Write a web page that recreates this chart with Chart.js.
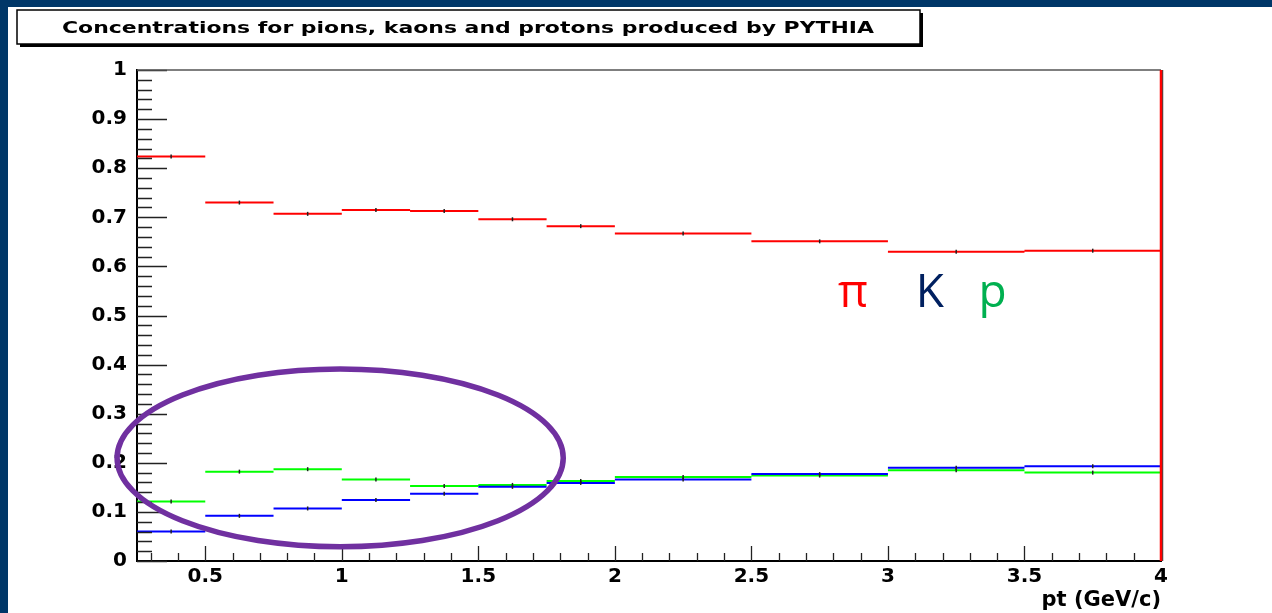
<!DOCTYPE html>
<html>
<head>
<meta charset="utf-8">
<script src="https://cdn.jsdelivr.net/npm/chart.js@4.4.1/dist/chart.umd.min.js"></script>
<style>
  html, body { margin: 0; padding: 0; background: #003768; width: 1272px; height: 613px; overflow: hidden; }
  #wrap { position: absolute; left: 8px; top: 7px; width: 1264px; height: 606px; background: #fff; }
</style>
</head>
<body>
<div id="wrap"><canvas id="myChart"></canvas></div>
<script>
// Bin edges in pt (GeV/c)
const binLow  = [0.25, 0.5, 0.75, 1.0, 1.25, 1.5, 1.75, 2.0, 2.5, 3.0, 3.5];
const binHigh = [0.5, 0.75, 1.0, 1.25, 1.5, 1.75, 2.0, 2.5, 3.0, 3.5, 4.0];

// Concentrations per bin
const pionValues   = [0.824, 0.730, 0.707, 0.715, 0.713, 0.696, 0.682, 0.667, 0.651, 0.630, 0.632];
const kaonValues   = [0.060, 0.092, 0.107, 0.124, 0.137, 0.151, 0.159, 0.166, 0.177, 0.190, 0.193];
const protonValues = [0.121, 0.182, 0.187, 0.166, 0.153, 0.155, 0.163, 0.171, 0.174, 0.185, 0.180];

// Tick labels
const xTickValues = [0.5, 1, 1.5, 2, 2.5, 3, 3.5, 4];
const yTickValues = [0, 0.1, 0.2, 0.3, 0.4, 0.5, 0.6, 0.7, 0.8, 0.9, 1];

const titleText = 'Concentrations for pions, kaons and protons produced by PYTHIA';
const xTitle = 'pt (GeV/c)';

// Turn bin values into separate horizontal segments (null breaks the line)
function toSteps(values) {
  let pts = [];
  for (let i = 0; i < values.length; i++) {
    pts.push({ x: binLow[i], y: values[i] });
    pts.push({ x: binHigh[i], y: values[i] });
    pts.push({ x: binHigh[i], y: null });
  }
  return pts;
}

// Bin centre markers
function toCentres(values) {
  return values.map((v, i) => ({ x: (binLow[i] + binHigh[i]) / 2, y: v }));
}

function stepSet(values, color, order) {
  return {
    data: toSteps(values),
    borderColor: color,
    borderWidth: 2,
    pointRadius: 0,
    spanGaps: false,
    fill: false,
    order: order,
  };
}

function markerSet(values) {
  return {
    type: 'scatter',
    data: toCentres(values),
    pointStyle: 'line',
    rotation: 90,
    radius: 2,
    borderColor: '#222',
    borderWidth: 1.5,
    order: 0,
  };
}

// Tick marks inside the frame, ROOT style
const tickMarks = {
  id: 'tickMarks',
  afterDatasetsDraw(chart) {
    const ctx = chart.ctx;
    const xs = chart.scales.x;
    const ys = chart.scales.y;
    const area = chart.chartArea;
    ctx.save();
    ctx.strokeStyle = '#222';
    ctx.lineWidth = 1.3;
    ctx.beginPath();
    for (let k = 0; k <= 50; k++) {
      let v = k / 50;
      let py = Math.round(ys.getPixelForValue(v)) + 0.5;
      let len = (k % 5 === 0) ? 30 : 15;
      ctx.moveTo(area.left, py);
      ctx.lineTo(area.left + len, py);
    }
    for (let k = 3; k <= 40; k++) {
      let v = k / 10;
      let px = Math.round(xs.getPixelForValue(v)) + 0.5;
      let len = (k % 5 === 0) ? 15 : 8;
      ctx.moveTo(px, area.bottom);
      ctx.lineTo(px, area.bottom - len);
    }
    ctx.stroke();
    ctx.restore();
  },
  afterDraw(chart) {
    const ctx = chart.ctx;
    const xs = chart.scales.x;
    const ys = chart.scales.y;
    const area = chart.chartArea;
    ctx.save();

    // top frame line
    ctx.strokeStyle = '#555';
    ctx.lineWidth = 1.5;
    ctx.beginPath();
    ctx.moveTo(area.left, area.top);
    ctx.lineTo(area.right, area.top);
    ctx.stroke();

    // right edge, last bin drawn down to zero
    ctx.strokeStyle = '#444';
    ctx.lineWidth = 1.5;
    ctx.beginPath();
    ctx.moveTo(xs.getPixelForValue(4) + 1.5, ys.getPixelForValue(1));
    ctx.lineTo(xs.getPixelForValue(4) + 1.5, ys.getPixelForValue(0));
    ctx.stroke();
    ctx.strokeStyle = '#ff0000';
    ctx.lineWidth = 2.5;
    ctx.beginPath();
    ctx.moveTo(xs.getPixelForValue(4), ys.getPixelForValue(1));
    ctx.lineTo(xs.getPixelForValue(4), ys.getPixelForValue(0));
    ctx.stroke();

    // purple ellipse around the low pt region
    const cx = xs.getPixelForValue(0.994);
    const cy = ys.getPixelForValue(0.21);
    const rx = xs.getPixelForValue(0.994 + 0.817) - cx;
    const ry = cy - ys.getPixelForValue(0.21 + 0.181);
    ctx.strokeStyle = '#7030a0';
    ctx.lineWidth = 5.5;
    ctx.beginPath();
    ctx.ellipse(cx, cy, rx, ry, 0, 0, Math.PI * 2);
    ctx.stroke();

    // particle labels
    ctx.font = '46px "Open Sans"';
    ctx.textAlign = 'center';
    ctx.textBaseline = 'alphabetic';
    const labY = ys.getPixelForValue(0.517);
    ctx.fillStyle = '#ff0000';
    ctx.fillText('\u03c0', xs.getPixelForValue(2.872), labY);
    ctx.fillStyle = '#002060';
    ctx.fillText('K', xs.getPixelForValue(3.153), labY);
    ctx.fillStyle = '#00b050';
    ctx.fillText('p', xs.getPixelForValue(3.383), labY);

    // title box with shadow
    ctx.fillStyle = '#000';
    ctx.fillRect(12, 6, 903, 34);
    ctx.fillStyle = '#fff';
    ctx.fillRect(9, 3, 903, 34);
    ctx.strokeStyle = '#000';
    ctx.lineWidth = 1.5;
    ctx.strokeRect(9, 3, 903, 34);
    ctx.font = 'bold 16px "DejaVu Sans"';
    ctx.fillStyle = '#000';
    const w = ctx.measureText(titleText).width;
    ctx.translate(460, 26);
    ctx.scale(812 / w, 1);
    ctx.textAlign = 'center';
    ctx.fillText(titleText, 0, 0);
    ctx.restore();
  }
};

const tickFont = { family: '"DejaVu Sans"', size: 20, weight: 'bold' };

const ctx = document.getElementById('myChart').getContext('2d');
const myChart = new Chart(ctx, {
  type: 'line',
  data: {
    datasets: [
      markerSet(pionValues),
      markerSet(kaonValues),
      markerSet(protonValues),
      stepSet(kaonValues, '#0000ff', 1),
      stepSet(protonValues, '#00ff00', 2),
      stepSet(pionValues, '#ff0000', 3),
    ],
  },
  options: {
    responsive: true,
    maintainAspectRatio: false,
    animation: false,
    layout: { padding: { top: 63, right: 111, left: 0, bottom: 0 } },
    plugins: {
      legend: { display: false },
      tooltip: { enabled: false },
    },
    scales: {
      x: {
        type: 'linear',
        min: 0.25,
        max: 4,
        afterBuildTicks: (axis) => { axis.ticks = xTickValues.map(v => ({ value: v })); },
        afterFit: (axis) => { axis.height = 52; },
        grid: { display: false, drawTicks: false, tickLength: 0 },
        border: { display: true, color: '#000', width: 2 },
        ticks: {
          color: '#000',
          font: tickFont,
          padding: 4,
          maxRotation: 0,
          autoSkip: false,
          callback: (v) => String(v),
        },
        title: {
          display: true,
          text: xTitle,
          align: 'end',
          color: '#000',
          font: { family: '"DejaVu Sans"', size: 21, weight: 'bold' },
          padding: { top: 0, bottom: 0 },
        },
      },
      y: {
        type: 'linear',
        min: 0,
        max: 1,
        afterBuildTicks: (axis) => { axis.ticks = yTickValues.map(v => ({ value: v })); },
        afterFit: (axis) => { axis.width = 129; },
        grid: { display: false, drawTicks: false, tickLength: 0 },
        border: { display: true, color: '#000', width: 2 },
        ticks: {
          color: '#000',
          font: tickFont,
          padding: 10,
          autoSkip: false,
          callback: (v) => String(v),
        },
      },
    },
  },
  plugins: [tickMarks],
});
</script>
</body>
</html>
